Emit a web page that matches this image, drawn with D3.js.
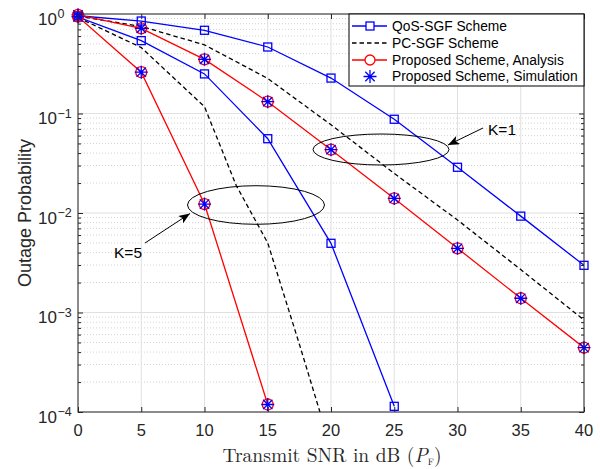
<!DOCTYPE html>
<html><head><meta charset="utf-8">
<script src="https://cdn.jsdelivr.net/npm/d3@7/dist/d3.min.js"></script>
<style>body{margin:0;background:#fff}svg{display:block}</style>
</head><body>
<svg id="c" width="600" height="469"></svg>
<script>
// ---- data ----
const snr = [0, 5, 10, 15, 20, 25, 30, 35, 40];
const qosK1 = [0.96, 0.85, 0.686, 0.466, 0.227, 0.0875, 0.0288, 0.0093, 0.00298];
const qosK5 = [0.93, 0.54, 0.25, 0.0558, 0.00496, 0.000114];
const propK1 = [0.98, 0.718, 0.35, 0.1315, 0.0433, 0.014, 0.00442, 0.00139, 0.000443];
const propK5 = [0.94, 0.26, 0.0123, 0.000119];
const pcK1 = [0.95, 0.75, 0.49, 0.225, 0.077, 0.025, 0.0085, 0.0027, 0.00084];
const pcK5X = [0, 5, 10, 12.5, 15, 17.5, 20];
const pcK5 = [0.92, 0.46, 0.117, 0.019, 0.005, 0.00048, 0.000043];
const xTicks = [0, 5, 10, 15, 20, 25, 30, 35, 40];
const yTickExp = [0, -1, -2, -3, -4];
const legendLabels = ["QoS-SGF Scheme", "PC-SGF Scheme", "Proposed Scheme, Analysis", "Proposed Scheme, Simulation"];

// ---- layout ----
const L = 78, R = 584, T = 14, B = 412;
const svg = d3.select("#c");
const x = d3.scaleLinear().domain([0, 40]).range([L, R]);
const y = d3.scaleLog().domain([1e-4, 1]).range([B, T]);
const BLUE = "#0000ff", RED = "#ff0000";
const sans = "'Liberation Sans', Arial, sans-serif";

svg.append("rect").attr("x", L).attr("y", T).attr("width", R - L).attr("height", B - T).attr("fill", "#fff");

// minor y values
const minorY = [];
for (let e = -4; e < 0; e++) for (let m = 2; m <= 9; m++) minorY.push(m * Math.pow(10, e));

// grid
const grid = svg.append("g");
grid.selectAll(".mn").data(minorY).enter().append("line")
  .attr("x1", L).attr("x2", R).attr("y1", d => y(d)).attr("y2", d => y(d))
  .attr("stroke", "#c8c8c8").attr("stroke-width", 0.8).attr("stroke-dasharray", "1,2");
grid.selectAll(".mjy").data(yTickExp).enter().append("line")
  .attr("x1", L).attr("x2", R).attr("y1", d => y(Math.pow(10, d))).attr("y2", d => y(Math.pow(10, d)))
  .attr("stroke", "#e0e0e0").attr("stroke-width", 1);
grid.selectAll(".mjx").data(xTicks).enter().append("line")
  .attr("x1", d => x(d)).attr("x2", d => x(d)).attr("y1", T).attr("y2", B)
  .attr("stroke", "#e0e0e0").attr("stroke-width", 1);

// axes (ticks inward)
const axCol = "#262626";
function styleAxis(g) { g.select(".domain").remove(); g.selectAll("line").attr("stroke", axCol); g.selectAll("text").remove(); }
svg.append("g").attr("transform", `translate(0,${B})`).call(d3.axisBottom(x).tickValues(xTicks).tickSize(-5).tickFormat("")).call(styleAxis);
svg.append("g").attr("transform", `translate(0,${T})`).call(d3.axisTop(x).tickValues(xTicks).tickSize(-5).tickFormat("")).call(styleAxis);
svg.append("g").attr("transform", `translate(${L},0)`).call(d3.axisLeft(y).tickValues(yTickExp.map(e => Math.pow(10, e))).tickSize(-5).tickFormat("")).call(styleAxis);
svg.append("g").attr("transform", `translate(${R},0)`).call(d3.axisRight(y).tickValues(yTickExp.map(e => Math.pow(10, e))).tickSize(-5).tickFormat("")).call(styleAxis);
svg.append("g").attr("transform", `translate(${L},0)`).call(d3.axisLeft(y).tickValues(minorY).tickSize(-3).tickFormat("")).call(styleAxis);
svg.append("g").attr("transform", `translate(${R},0)`).call(d3.axisRight(y).tickValues(minorY).tickSize(-3).tickFormat("")).call(styleAxis);

// tick labels
svg.append("g").selectAll("text").data(xTicks).enter().append("text")
  .attr("x", d => x(d)).attr("y", 435.5).attr("text-anchor", "middle")
  .attr("font-family", sans).attr("font-size", 16.5).attr("fill", "#262626").text(d => d);
const yl = svg.append("g").selectAll("g").data(yTickExp).enter().append("g");
yl.append("text").attr("x", 57).attr("y", d => y(Math.pow(10, d)) + 10.5).attr("text-anchor", "end")
  .attr("font-family", sans).attr("font-size", 17).attr("fill", "#262626").text("10");
yl.append("text").attr("x", 57.5).attr("y", d => y(Math.pow(10, d)) + 4).attr("text-anchor", "start")
  .attr("font-family", sans).attr("font-size", 12.5).attr("fill", "#262626").text(d => d === 0 ? "0" : "\u2212" + (-d));

// axis titles
svg.append("text").attr("transform", `translate(31,${(T + B) / 2}) rotate(-90)`).attr("text-anchor", "middle")
  .attr("font-family", sans).attr("font-size", 18).attr("fill", "#262626").text("Outage Probability");
const xt = svg.append("text").attr("x", (L + R) / 2 + 1).attr("y", 462).attr("text-anchor", "middle")
  .attr("font-family", "'Latin Modern Roman','CMU Serif','Liberation Serif','DejaVu Serif',serif").attr("font-size", 19.5).attr("fill", "#262626");
xt.append("tspan").text("Transmit SNR in dB (");
xt.append("tspan").attr("font-style", "italic").text("P");
xt.append("tspan").attr("font-size", 9.5).attr("dy", 3).text("F");
xt.append("tspan").attr("dy", -3).text(")");

// clip
svg.append("clipPath").attr("id", "clip").append("rect").attr("x", L).attr("y", T).attr("width", R - L).attr("height", B - T);
const plot = svg.append("g").attr("clip-path", "url(#clip)");
const line = d3.line().x(d => x(d[0])).y(d => y(d[1]));
const zip = (xs, ys) => ys.map((v, i) => [xs[i], v]);

function drawLine(pts, color, dash) {
  plot.append("path").datum(pts).attr("d", line).attr("fill", "none").attr("stroke", color)
    .attr("stroke-width", 1.3).attr("stroke-dasharray", dash || null);
}
drawLine(zip(pcK5X, pcK5), "#000", "4.5,3");
drawLine(zip(snr, pcK1), "#000", "4.5,3");
drawLine(zip(snr, qosK1), BLUE);
drawLine(zip(snr, qosK5), BLUE);
drawLine(zip(snr, propK1), RED);
drawLine(zip(snr, propK5), RED);

const sq = 8;
function squares(pts) {
  svg.append("g").selectAll("rect").data(pts).enter().append("rect")
    .attr("x", d => x(d[0]) - sq / 2).attr("y", d => y(d[1]) - sq / 2).attr("width", sq).attr("height", sq)
    .attr("fill", "none").attr("stroke", BLUE).attr("stroke-width", 1.3);
}
const star = s => { const k = s * 0.72; return `M${-s},0H${s}M0,${-s}V${s}M${-k},${-k}L${k},${k}M${-k},${k}L${k},${-k}`; };
function analysis(pts) {
  svg.append("g").selectAll("circle").data(pts).enter().append("circle")
    .attr("cx", d => x(d[0])).attr("cy", d => y(d[1])).attr("r", 5.5)
    .attr("fill", "none").attr("stroke", RED).attr("stroke-width", 1.3);
  svg.append("g").selectAll("path").data(pts).enter().append("path")
    .attr("transform", d => `translate(${x(d[0])},${y(d[1])})`).attr("d", star(6.5))
    .attr("fill", "none").attr("stroke", BLUE).attr("stroke-width", 1.3);
}
squares(zip(snr, qosK1));
squares(zip(snr, qosK5));
analysis(zip(snr, propK1));
analysis(zip(snr, propK5));

// frame
svg.append("rect").attr("x", L).attr("y", T).attr("width", R - L).attr("height", B - T)
  .attr("fill", "none").attr("stroke", axCol).attr("stroke-width", 1);

// annotations
svg.append("defs").append("marker").attr("id", "ah").attr("viewBox", "0 0 10 8").attr("refX", 10).attr("refY", 4)
  .attr("markerWidth", 12).attr("markerHeight", 9).attr("markerUnits", "userSpaceOnUse").attr("orient", "auto")
  .append("path").attr("d", "M0,0L10,4L0,8L2.5,4Z").attr("fill", "#000");
svg.append("ellipse").attr("cx", 381).attr("cy", 149.5).attr("rx", 68).attr("ry", 15.5).attr("fill", "none").attr("stroke", "#000").attr("stroke-width", 1);
svg.append("ellipse").attr("cx", 256).attr("cy", 205).attr("rx", 68.5).attr("ry", 19.3).attr("fill", "none").attr("stroke", "#000").attr("stroke-width", 1);
svg.append("line").attr("x1", 483).attr("y1", 128).attr("x2", 448).attr("y2", 145).attr("stroke", "#000").attr("stroke-width", 1).attr("marker-end", "url(#ah)");
svg.append("line").attr("x1", 145).attr("y1", 243).attr("x2", 190).attr("y2", 213.5).attr("stroke", "#000").attr("stroke-width", 1).attr("marker-end", "url(#ah)");
svg.append("text").attr("x", 488).attr("y", 135).attr("font-family", sans).attr("font-size", 15.5).attr("fill", "#000").text("K=1");
svg.append("text").attr("x", 114).attr("y", 258).attr("font-family", sans).attr("font-size", 15.5).attr("fill", "#000").text("K=5");

// legend
const lg = svg.append("g");
lg.append("rect").attr("x", 349).attr("y", 14).attr("width", 235).attr("height", 72).attr("fill", "#fff").attr("stroke", "#000").attr("stroke-width", 1);
const ly = [26, 43, 60, 76.5];
legendLabels.forEach((t, i) => {
  const yy = ly[i];
  if (i < 3) lg.append("line").attr("x1", 352).attr("x2", 387).attr("y1", yy).attr("y2", yy)
    .attr("stroke", i === 0 ? BLUE : i === 1 ? "#000" : RED).attr("stroke-width", 1.3).attr("stroke-dasharray", i === 1 ? "4.5,3" : null);
  if (i === 0) lg.append("rect").attr("x", 370 - sq / 2).attr("y", yy - sq / 2).attr("width", sq).attr("height", sq).attr("fill", "#fff").attr("stroke", BLUE).attr("stroke-width", 1.3);
  if (i === 2) lg.append("circle").attr("cx", 370).attr("cy", yy).attr("r", 5).attr("fill", "#fff").attr("stroke", RED).attr("stroke-width", 1.3);
  if (i === 3) lg.append("path").attr("transform", `translate(370,${yy})`).attr("d", star(6.5)).attr("fill", "none").attr("stroke", BLUE).attr("stroke-width", 1.3);
  lg.append("text").attr("x", 392).attr("y", yy + 4.8).attr("font-family", sans).attr("font-size", 13.8).attr("fill", "#000").text(t);
});
</script>
</body></html>
